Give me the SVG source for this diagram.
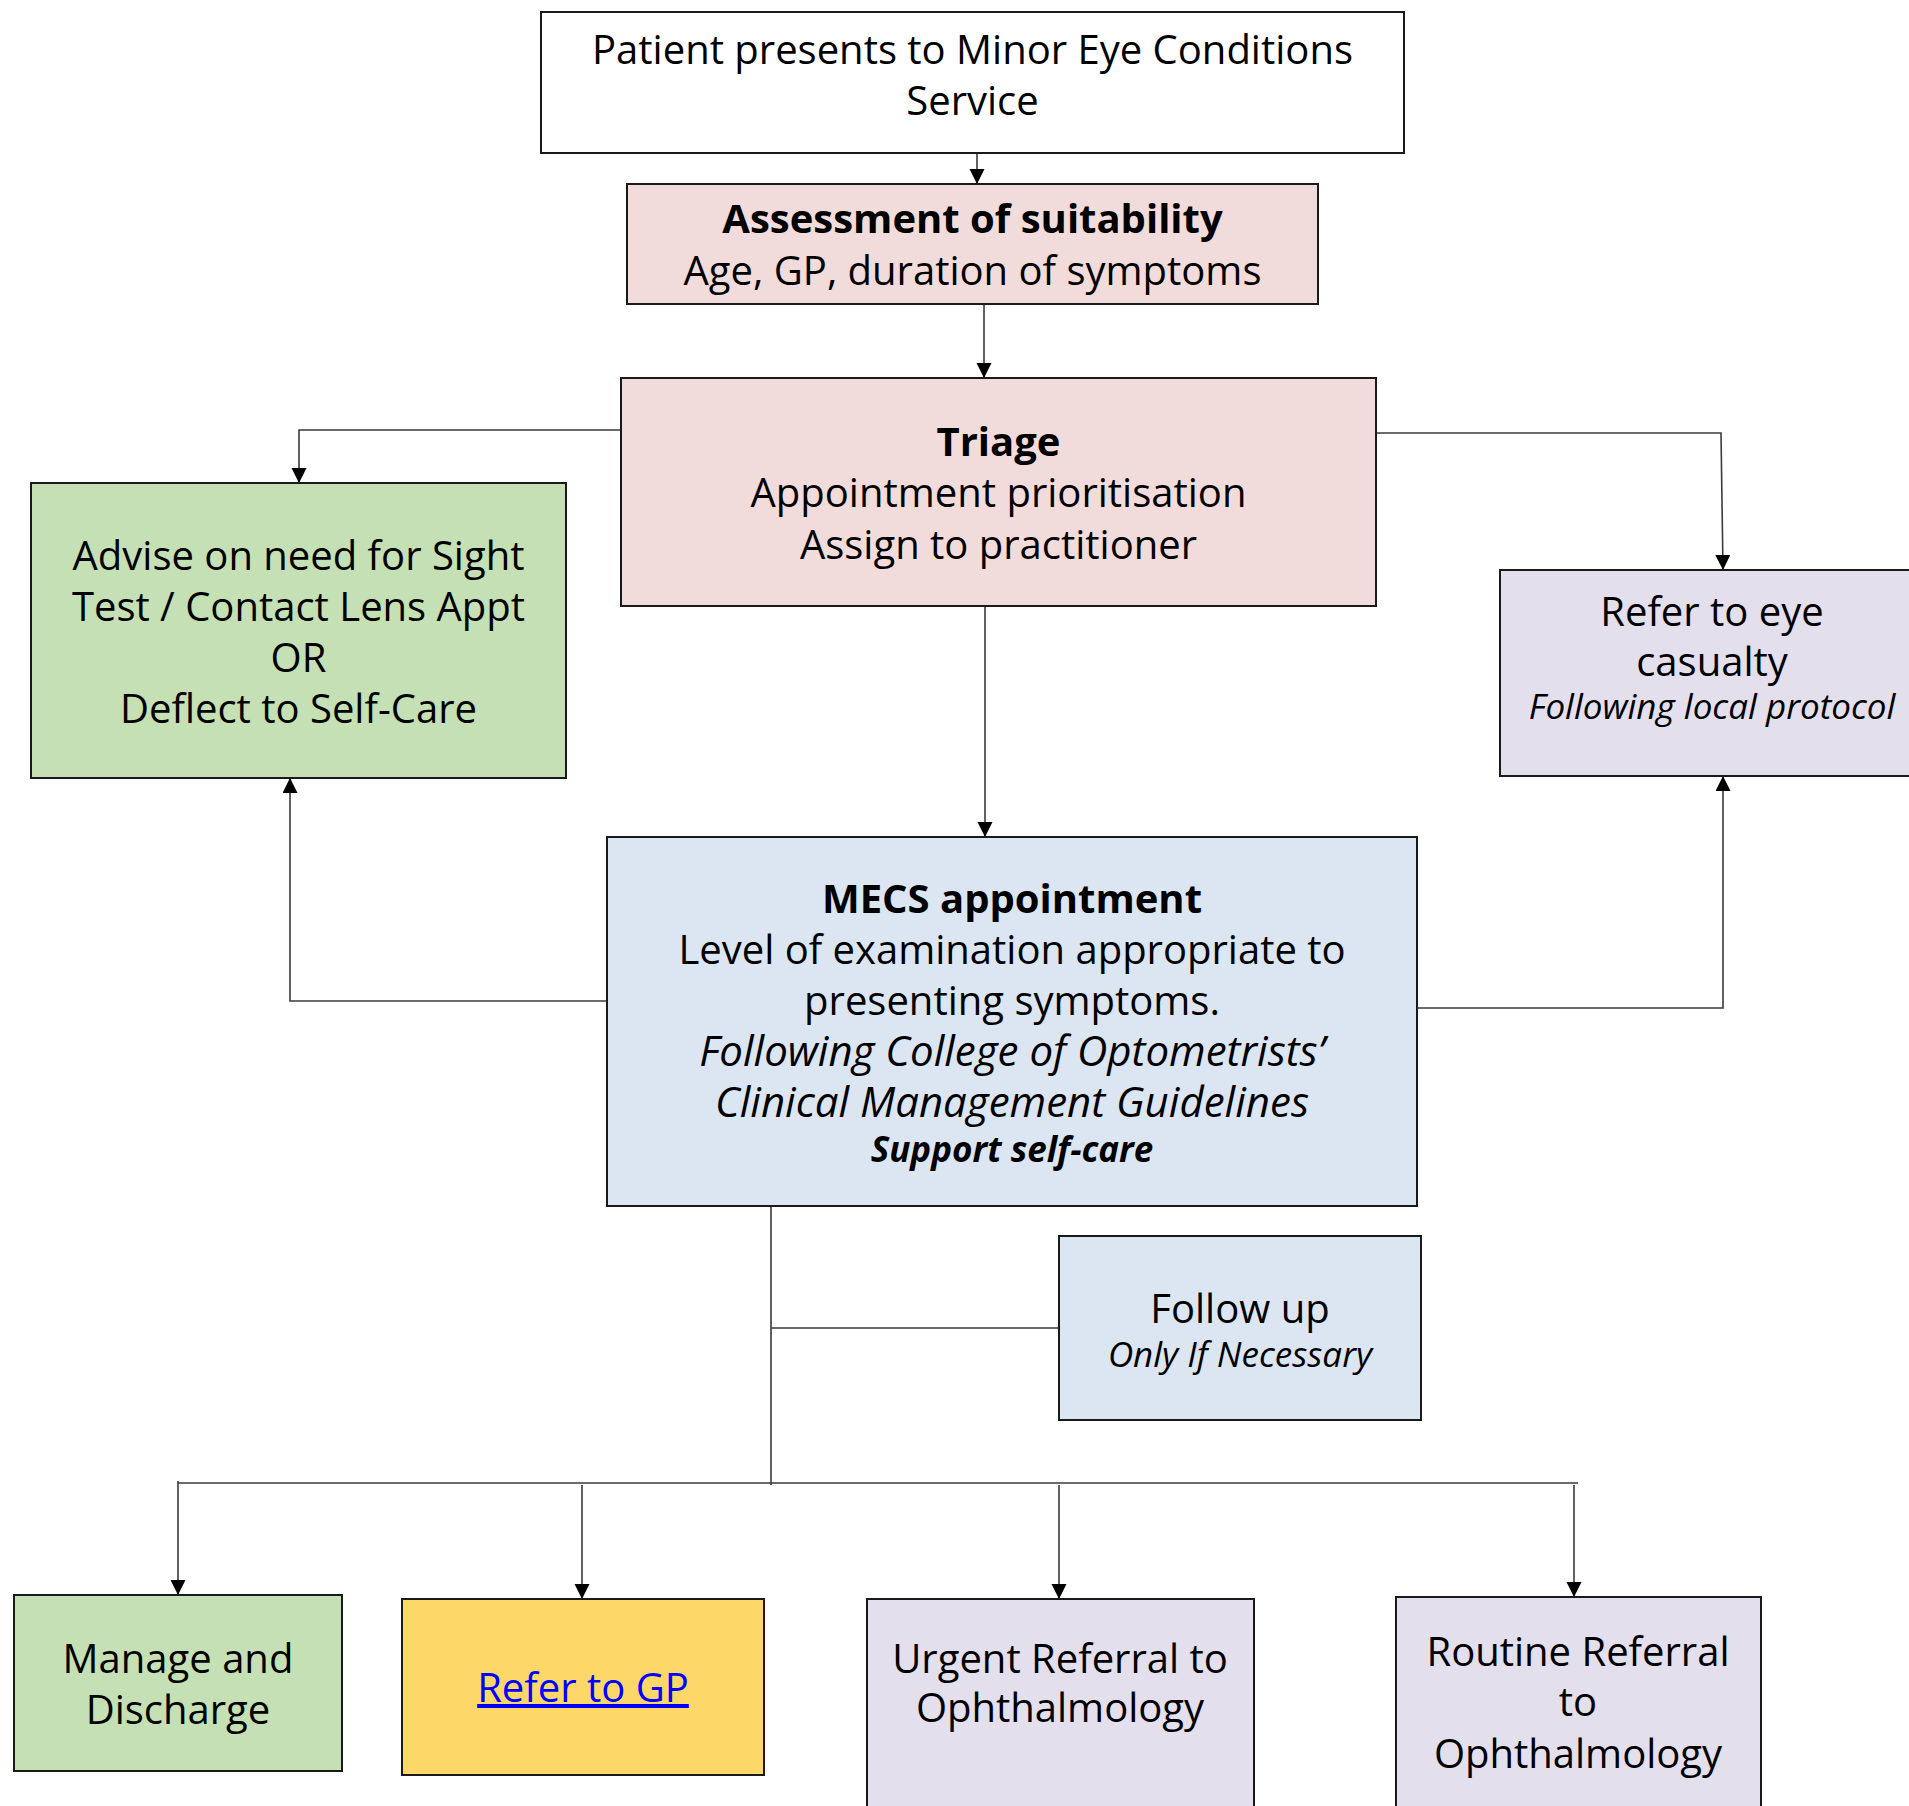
<svg xmlns="http://www.w3.org/2000/svg" width="1909" height="1806" viewBox="0 0 1909 1806">
<style>
.box{stroke:#1a1a1a;stroke-width:2}
.w{fill:#ffffff}
.pink{fill:#F2DCDB}
.green{fill:#C5E0B4}
.lav{fill:#E4DFEC}
.blue{fill:#DCE6F2}
.yellow{fill:#FDD868}
text{font-family:"Open Sans","Noto Sans","Liberation Sans",sans-serif;font-size:40px;fill:#000;text-anchor:middle}
.b{font-weight:bold}
.i{font-style:italic}
.il{font-size:42px}
.s{font-size:35px}
.link{fill:#0000FF;text-decoration:underline}
.c{fill:none;stroke:#3a3a3a;stroke-width:1.6}
</style>
<defs>
<marker id="arr" markerUnits="userSpaceOnUse" markerWidth="16" markerHeight="16" refX="15" refY="7.5" orient="auto">
<path d="M0,0 L15,7.5 L0,15 z" fill="#000"/>
</marker>
</defs>
<rect width="1909" height="1806" fill="#ffffff"/>
<g id="connectors">
<path class="c" d="M977,153 V184" marker-end="url(#arr)"/>
<path class="c" d="M984,304 V378" marker-end="url(#arr)"/>
<path class="c" d="M621,430 H299 V483" marker-end="url(#arr)"/>
<path class="c" d="M1376,433 H1721 L1723,570" marker-end="url(#arr)"/>
<path class="c" d="M985,606 V837" marker-end="url(#arr)"/>
<path class="c" d="M607,1001 H290 V778" marker-end="url(#arr)"/>
<path class="c" d="M1417,1008 H1723 V776" marker-end="url(#arr)"/>
<path class="c" d="M771,1206 V1485"/>
<path class="c" d="M771,1328 H1059"/>
<path class="c" d="M178,1483 H1578"/>
<path class="c" d="M178,1481 V1595" marker-end="url(#arr)"/>
<path class="c" d="M582,1485 V1599" marker-end="url(#arr)"/>
<path class="c" d="M1059,1485 V1599" marker-end="url(#arr)"/>
<path class="c" d="M1574,1485 V1597" marker-end="url(#arr)"/>
</g>
<g id="n_patient">
<rect class="box w" x="541" y="12" width="863" height="141"/>
<text x="972.5" y="64">Patient presents to Minor Eye Conditions</text>
<text x="972.5" y="115">Service</text>
</g>
<g id="n_assess">
<rect class="box pink" x="627" y="184" width="691" height="120"/>
<text class="b" x="972.5" y="233">Assessment of suitability</text>
<text x="972.5" y="285">Age, GP, duration of symptoms</text>
</g>
<g id="n_triage">
<rect class="box pink" x="621" y="378" width="755" height="228"/>
<text class="b" x="998.5" y="456">Triage</text>
<text x="998.5" y="507">Appointment prioritisation</text>
<text x="998.5" y="559">Assign to practitioner</text>
</g>
<g id="n_advise">
<rect class="box green" x="31" y="483" width="535" height="295"/>
<text x="298.5" y="570">Advise on need for Sight</text>
<text x="298.5" y="621">Test / Contact Lens Appt</text>
<text x="298.5" y="672">OR</text>
<text x="298.5" y="723">Deflect to Self-Care</text>
</g>
<g id="n_casualty">
<rect class="box lav" x="1500" y="570" width="430" height="206"/>
<text x="1712" y="626">Refer to eye</text>
<text x="1712" y="676">casualty</text>
<text class="i s" x="1712" y="719">Following local protocol</text>
</g>
<g id="n_mecs">
<rect class="box blue" x="607" y="837" width="810" height="369"/>
<text class="b" x="1012" y="913">MECS appointment</text>
<text x="1012" y="964">Level of examination appropriate to</text>
<text x="1012" y="1015">presenting symptoms.</text>
<text class="i il" x="1012" y="1066">Following College of Optometrists’</text>
<text class="i il" x="1012" y="1117">Clinical Management Guidelines</text>
<text class="b i s" x="1012" y="1162">Support self-care</text>
</g>
<g id="n_followup">
<rect class="box blue" x="1059" y="1236" width="362" height="184"/>
<text x="1240" y="1323">Follow up</text>
<text class="i s" x="1240" y="1367">Only If Necessary</text>
</g>
<g id="n_manage">
<rect class="box green" x="14" y="1595" width="328" height="176"/>
<text x="178" y="1673">Manage and</text>
<text x="178" y="1724">Discharge</text>
</g>
<g id="n_gp">
<rect class="box yellow" x="402" y="1599" width="362" height="176"/>
<text class="link" x="583" y="1702">Refer to GP</text>
</g>
<g id="n_urgent">
<rect class="box lav" x="867" y="1599" width="387" height="240"/>
<text x="1060" y="1673">Urgent Referral to</text>
<text x="1060" y="1722">Ophthalmology</text>
</g>
<g id="n_routine">
<rect class="box lav" x="1396" y="1597" width="365" height="240"/>
<text x="1578" y="1666">Routine Referral</text>
<text x="1578" y="1716">to</text>
<text x="1578" y="1768">Ophthalmology</text>
</g>
</svg>
